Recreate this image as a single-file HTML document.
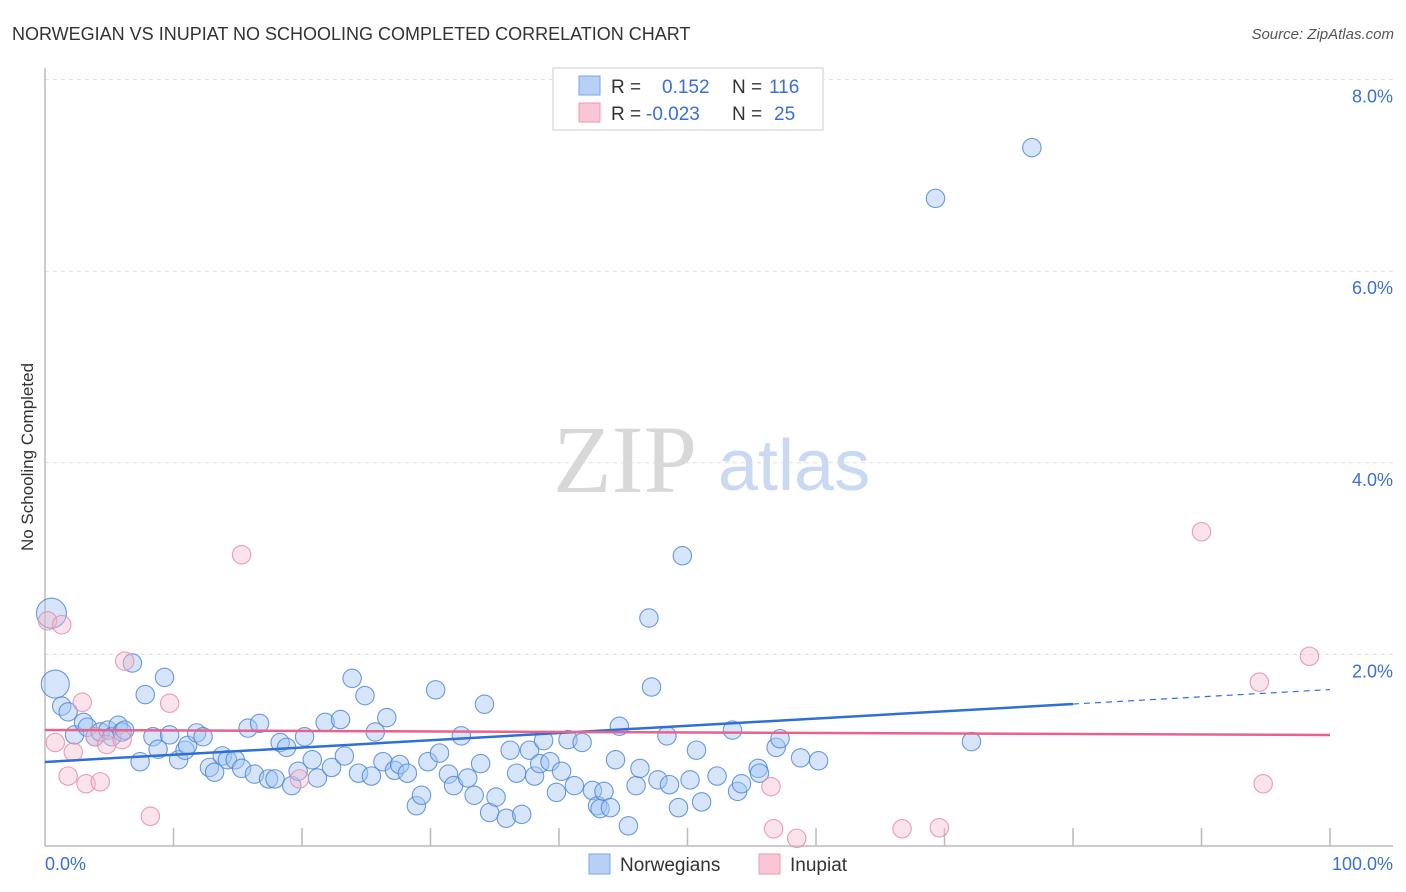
<!DOCTYPE html>
<html><head><meta charset="utf-8"><style>
body{margin:0;background:#fff;width:1406px;height:892px;overflow:hidden;font-family:"Liberation Sans",sans-serif}
svg{display:block}
</style></head><body>
<svg id="chart" width="1406" height="892">
<text x="12" y="40" font-size="18" fill="#333">NORWEGIAN VS INUPIAT NO SCHOOLING COMPLETED CORRELATION CHART</text>
<text x="1394" y="39" font-size="15" fill="#555" font-style="italic" text-anchor="end">Source: ZipAtlas.com</text>
<text x="33" y="457" font-size="17" fill="#333" text-anchor="middle" transform="rotate(-90 33 457)">No Schooling Completed</text>
<g>
<text x="553" y="492" font-size="96" fill="#d8d8d8" font-family="Liberation Serif,serif">ZIP</text>
<text x="718" y="490" font-size="72" fill="#c9d9f2">atlas</text>
</g>
<g id="grid"></g>
<g id="marks"></g>
<g>
<rect x="553" y="68" width="270" height="62" fill="#fff" stroke="#ccc"/>
<rect x="579" y="76" width="21" height="19" fill="#b8d0f4" stroke="#7aa6e6"/>
<rect x="579" y="103" width="21" height="19" fill="#f8c6d4" stroke="#ec9ab2"/>
<text x="611" y="93" font-size="19" fill="#333">R =</text><text x="662" y="93" font-size="19" fill="#3a6fd8">0.152</text>
<text x="732" y="93" font-size="19" fill="#333">N =</text><text x="769" y="93" font-size="19" fill="#3a6fd8">116</text>
<text x="611" y="120" font-size="19" fill="#333">R =</text><text x="646" y="120" font-size="19" fill="#3a6fd8">-0.023</text>
<text x="732" y="120" font-size="19" fill="#333">N =</text><text x="774" y="120" font-size="19" fill="#3a6fd8">25</text>
</g>
<g>
<rect x="589" y="854" width="21" height="20" fill="#b8d0f4" stroke="#7aa6e6"/>
<text x="620" y="871" font-size="19" fill="#333">Norwegians</text>
<rect x="759" y="854" width="21" height="20" fill="#f8c6d4" stroke="#ec9ab2"/>
<text x="790" y="871" font-size="19" fill="#333">Inupiat</text>
</g>
</svg>
<script>
const yTicks=[2,4,6,8];
const yTickLabels=["2.0%","4.0%","6.0%","8.0%"];
const xTickLabels=["0.0%","100.0%"];
const blueX=[0.5,0.8,1.3,1.8,2.3,3.0,3.3,3.9,4.3,4.9,5.2,5.7,6.0,6.2,6.8,7.4,7.8,8.4,8.8,9.3,9.7,10.4,10.9,11.1,11.8,12.3,12.8,13.2,13.8,14.2,14.8,15.3,15.8,16.3,16.7,17.4,17.9,18.3,18.8,19.2,19.7,20.2,20.8,21.2,21.8,22.3,23.0,23.3,23.9,24.4,24.9,25.4,25.7,26.3,26.6,27.2,27.6,28.2,28.9,29.3,29.8,30.4,30.7,31.4,31.8,32.4,32.9,33.4,33.9,34.2,34.6,35.1,35.9,36.2,36.7,37.1,37.7,38.1,38.5,38.8,39.3,39.8,40.2,40.7,41.2,41.8,42.6,43.0,43.2,43.5,44.0,44.4,44.7,45.4,46.0,46.3,47.0,47.2,47.7,48.4,48.6,49.3,49.6,50.2,50.7,51.1,52.3,53.5,53.9,54.2,55.5,55.6,56.9,57.2,58.8,60.2,69.3,76.8,72.1];
const blueY=[2.43,1.69,1.46,1.40,1.16,1.29,1.24,1.14,1.19,1.21,1.14,1.26,1.19,1.21,1.91,0.88,1.58,1.14,1.01,1.76,1.16,0.90,1.00,1.05,1.18,1.14,0.82,0.77,0.94,0.90,0.90,0.81,1.23,0.75,1.28,0.70,0.70,1.08,1.03,0.63,0.78,1.14,0.90,0.71,1.29,0.82,1.32,0.94,1.75,0.76,1.57,0.73,1.19,0.88,1.34,0.79,0.85,0.76,0.42,0.53,0.88,1.63,0.97,0.75,0.63,1.15,0.71,0.53,0.86,1.48,0.35,0.51,0.29,1.00,0.76,0.33,1.00,0.73,0.86,1.10,0.88,0.56,0.78,1.11,0.63,1.08,0.58,0.42,0.39,0.57,0.40,0.90,1.25,0.21,0.63,0.81,2.38,1.66,0.69,1.15,0.64,0.40,3.03,0.69,1.00,0.46,0.73,1.21,0.57,0.65,0.81,0.76,1.03,1.12,0.92,0.89,6.76,7.29,1.09];
const blueBig=[15,14];
const pinkX=[0.2,1.3,0.8,1.8,2.2,3.2,4.3,2.9,3.9,4.8,6.2,6.0,8.2,9.7,15.3,19.8,56.5,56.7,58.5,66.7,69.6,90.0,94.5,94.8,98.4];
const pinkY=[2.35,2.31,1.08,0.73,0.98,0.65,0.67,1.50,1.14,1.06,1.93,1.11,0.31,1.49,3.04,0.70,0.62,0.18,0.08,0.18,0.19,3.28,1.71,0.65,1.98];
const blueTrend=[0.877,1.633];
const pinkTrend=[1.211,1.159];
const X0=45,X1=1330,Y0=846,PY=95.8;
const sx=v=>X0+(X1-X0)*v/100;
const sy=v=>Y0-v*PY;
const NS="http://www.w3.org/2000/svg";
function mk(t,a,p){const e=document.createElementNS(NS,t);for(const k in a)e.setAttribute(k,a[k]);p.appendChild(e);return e;}
const grid=document.getElementById('grid'),marks=document.getElementById('marks');
yTicks.forEach((t,i)=>{
 const l=mk('line',{x1:X0,x2:1393,y1:sy(t),y2:sy(t),stroke:'#ddd','stroke-dasharray':'4,4'},grid);
 
 
 const tx=mk('text',{x:1393,y:sy(t)+23,'font-size':18,fill:'#3a6fd8','text-anchor':'end'},grid);
 tx.textContent=yTickLabels[i];
 
 
});
for(let i=1;i<=10;i++){
 const t=mk('line',{x1:sx(i*10),x2:sx(i*10),y1:828,y2:Y0,stroke:'#bbb','stroke-width':1.5},grid);
 
 
}
mk('line',{x1:X0,x2:X0,y1:68,y2:Y0,stroke:'#bbb','stroke-width':1.5},grid);
mk('line',{x1:X0,x2:1393,y1:Y0,y2:Y0,stroke:'#bbb','stroke-width':1.5},grid);
const xl0=mk('text',{x:45,y:870,'font-size':18,fill:'#3a6fd8'},grid);xl0.textContent=xTickLabels[0];


const xl1=mk('text',{x:1393,y:870,'font-size':18,fill:'#3a6fd8','text-anchor':'end'},grid);xl1.textContent=xTickLabels[1];


blueX.forEach((x,i)=>{
 const c=mk('circle',{cx:sx(x),cy:sy(blueY[i]),r:i<blueBig.length?blueBig[i]:9.2,fill:'rgba(165,198,242,0.45)',stroke:'rgba(70,130,220,0.8)','stroke-width':1.1},marks);
 
 
});
pinkX.forEach((x,i)=>{
 const c=mk('circle',{cx:sx(x),cy:sy(pinkY[i]),r:9.2,fill:'rgba(245,185,205,0.4)',stroke:'rgba(230,140,170,0.85)','stroke-width':1.1},marks);
 
 
});
const bt=v=>blueTrend[0]+(blueTrend[1]-blueTrend[0])*v/100;
const b1=mk('line',{x1:sx(0),y1:sy(bt(0)),x2:sx(80),y2:sy(bt(80)),stroke:'#2f6fd6','stroke-width':2.5},marks);


const b2=mk('line',{x1:sx(80),y1:sy(bt(80)),x2:sx(100),y2:sy(bt(100)),stroke:'#2f6fd6','stroke-width':1.2,'stroke-dasharray':'6,5'},marks);


const p1=mk('line',{x1:sx(0),y1:sy(pinkTrend[0]),x2:sx(100),y2:sy(pinkTrend[1]),stroke:'#e8628e','stroke-width':2.5},marks);


</script>
</body></html>
